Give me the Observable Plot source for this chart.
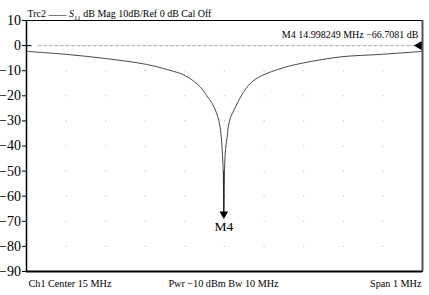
<!DOCTYPE html>
<html>
<head>
<meta charset="utf-8">
<script src="https://cdn.jsdelivr.net/npm/d3@7"></script>
<script src="https://cdn.jsdelivr.net/npm/@observablehq/plot@0.6"></script>
<style>
  html, body { margin: 0; padding: 0; background: #fff; }
  svg { display: block; }
  svg text { font-family: 'Liberation Serif', 'Times New Roman', serif !important; font-variant: normal !important; }
</style>
</head>
<body>
<div id="chart"></div>
<script>
// Trace data: frequency in MHz, S11 in dB
const freqMHz = [14.5, 14.601, 14.702, 14.803, 14.861, 14.9015, 14.939, 14.9545, 14.969, 14.979, 14.9856, 14.9893, 14.9917, 14.9942, 14.9967, 14.998249, 15.0, 15.0025, 15.0068, 15.0109, 15.0165, 15.0235, 15.0442, 15.0657, 15.091, 15.149, 15.1995, 15.293, 15.394, 15.5];
const s11dB   = [-2.3, -3.5, -5.2, -7.5, -9.8, -12.0, -16.5, -19.8, -23.1, -26.5, -29.8, -33.0, -36.4, -41.7, -49.7, -66.7081, -49.7, -41.7, -36.4, -31.1, -28.2, -25.8, -19.5, -15.0, -12.2, -8.8, -6.9, -4.5, -3.5, -2.3];

// Axes / grid
const yTicks = [10, 0, -10, -20, -30, -40, -50, -60, -70, -80, -90];
const xGrid = [14.6, 14.7, 14.8, 14.9, 15.0, 15.1, 15.2, 15.3, 15.4];
const yGrid = [-10, -20, -30, -40, -50, -60, -70, -80];
const xDomain = [14.5, 15.5];
const yDomain = [-90, 10];
const refLevel = 0;
const refLineSpan = [14.53, 15.485];

// Marker
const markerName = "M4";
const markerFreq = 14.998249;
const markerDb = -66.7081;

// Texts
const titleText = "Trc2 —— S11 dB Mag 10dB/Ref 0 dB Cal Off";
const markerText = "M4 14.998249 MHz −66.7081 dB";
const footLeft = "Ch1 Center 15 MHz";
const footMid = "Pwr −10 dBm Bw 10 MHz";
const footRight = "Span 1 MHz";

const trace = freqMHz.map((f, i) => ({f, db: s11dB[i]}));
const gridPts = xGrid.flatMap(x => yGrid.map(y => ({x, y})));

const font = "'Liberation Serif', 'Times New Roman', serif";

const chart = Plot.plot({
  width: 429,
  height: 295,
  marginLeft: 26,
  marginRight: 7,
  marginTop: 20,
  marginBottom: 24,
  style: {fontFamily: font, background: "#fff", color: "#000", overflow: "visible"},
  x: {domain: xDomain, axis: null},
  y: {domain: yDomain},
  marks: [
    Plot.dot(gridPts, {x: "x", y: "y", r: 0.6, fill: "#b5b5b5", stroke: "none"}),
    Plot.ruleY([refLevel], {x1: refLineSpan[0], x2: refLineSpan[1], stroke: "#999", strokeWidth: 0.8, strokeDasharray: "4,1.5"}),
    Plot.ruleY([refLevel], {x1: xDomain[0], x2: xDomain[0] + 0.014, stroke: "#222", strokeWidth: 1.2}),
    Plot.dot([refLevel], {x: () => xDomain[1], y: d => d, symbol: "triangle", rotate: -90, r: 3.6, dx: -3, fill: "#000", stroke: "none"}),
    Plot.line(trace, {x: "f", y: "db", curve: "catmull-rom", stroke: "#333", strokeWidth: 0.9}),
    Plot.ruleX([markerFreq], {y1: -50, y2: markerDb, stroke: "#111", strokeWidth: 0.9}),
    Plot.dot([{f: markerFreq, db: markerDb}], {x: "f", y: "db", symbol: "triangle", rotate: 180, r: 3.2, dy: 1, fill: "#000", stroke: "none"}),
    Plot.text([markerName], {x: () => markerFreq, y: () => markerDb, text: d => d, dy: 14, fontSize: 13.5, fontFamily: font, fill: "#000"}),
    Plot.frame({stroke: "#000", strokeWidth: 1}),
    Plot.ruleY([yDomain[0]], {stroke: "#000", strokeWidth: 2}),
    Plot.ruleX([xDomain[0]], {stroke: "#000", strokeWidth: 1.5}),
    Plot.ruleX([xDomain[1]], {stroke: "#555", strokeWidth: 2}),
    Plot.axisY(yTicks, {tickSize: 4, tickPadding: 1.5, fontSize: 14, fontFamily: font, label: null, tickFormat: d => d < 0 ? "−" + Math.abs(d) : String(d)}),
    Plot.text([titleText], {frameAnchor: "top-left", dx: 1, dy: -11, textAnchor: "start", fontSize: 10, fontFamily: font, fill: "#000"}),
    Plot.text([markerText], {frameAnchor: "top-right", dx: -4, dy: 10, textAnchor: "end", fontSize: 10, fontFamily: font, fill: "#000"}),
    Plot.text([footLeft], {frameAnchor: "bottom-left", dx: 2, dy: 15, textAnchor: "start", fontSize: 10.2, fontFamily: font, fill: "#000"}),
    Plot.text([footMid], {frameAnchor: "bottom", dx: -1, dy: 15, fontSize: 10.2, fontFamily: font, fill: "#000"}),
    Plot.text([footRight], {frameAnchor: "bottom-right", dx: -1, dy: 15, textAnchor: "end", fontSize: 10.2, fontFamily: font, fill: "#000"})
  ]
});

// Render S11 with italic S and subscript 11
d3.select(chart).selectAll("text").each(function() {
  const t = d3.select(this);
  if (t.text() === titleText) {
    t.text(null);
    t.append("tspan").text("Trc2 ");
    t.append("tspan").attr("font-size", 9).text("——");
    t.append("tspan").text(" ");
    t.append("tspan").attr("font-style", "italic").text("S");
    t.append("tspan").attr("font-size", 7).attr("dy", 3).text("11");
    t.append("tspan").attr("dy", -3).text(" dB Mag 10dB/Ref 0 dB Cal Off");
  }
});

document.getElementById("chart").appendChild(chart);
</script>
</body>
</html>
